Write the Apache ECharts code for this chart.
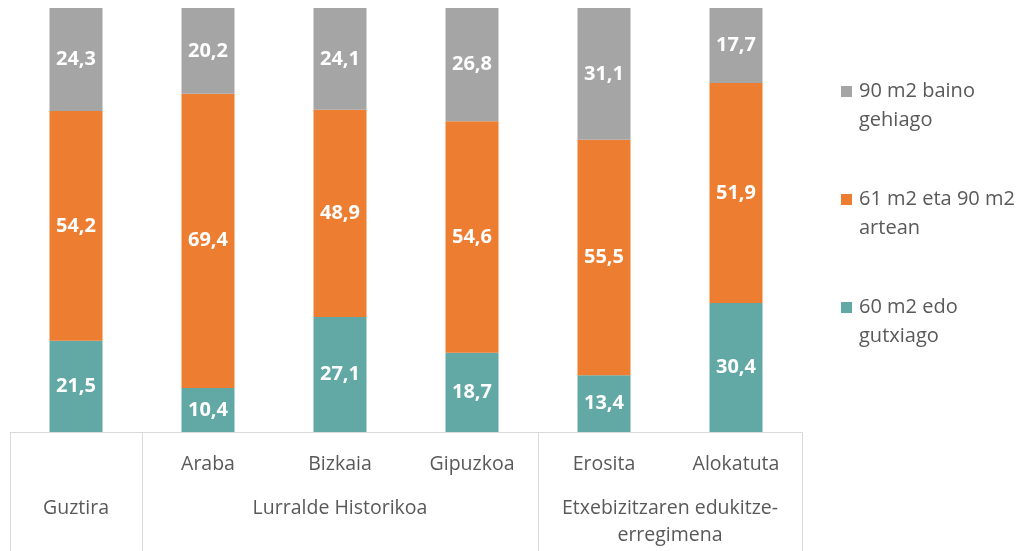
<!DOCTYPE html>
<html>
<head>
<meta charset="utf-8">
<script src="https://cdn.jsdelivr.net/npm/echarts@6/dist/echarts.min.js"></script>
<style>html,body{margin:0;padding:0;background:#fff}#c{width:1024px;height:551px}</style>
</head>
<body>
<div id="c"></div>
<script>
const categories = ['Guztira', 'Araba', 'Bizkaia', 'Gipuzkoa', 'Erosita', 'Alokatuta'];
const groupLabels = ['Guztira', 'Lurralde Historikoa', 'Etxebizitzaren edukitze-\nerregimena'];
const seriesNames = ['60 m2 edo gutxiago', '61 m2 eta 90 m2 artean', '90 m2 baino gehiago'];
const small = [21.5, 10.4, 27.1, 18.7, 13.4, 30.4];
const medium = [54.2, 69.4, 48.9, 54.6, 55.5, 51.9];
const large = [24.3, 20.2, 24.1, 26.8, 31.1, 17.7];
const legendText = {
  '90 m2 baino gehiago': '90 m2 baino\ngehiago',
  '61 m2 eta 90 m2 artean': '61 m2 eta 90 m2\nartean',
  '60 m2 edo gutxiago': '60 m2 edo\ngutxiago'
};

// group axis: 13 slots (half categories) so group labels/dividers sit between categories
const groupSlots = [];
for (let i = 0; i <= categories.length * 2; i++) groupSlots.push('');
groupSlots[1] = groupLabels[0];
groupSlots[5] = groupLabels[1];
groupSlots[10] = groupLabels[2];
const dividerSlots = [0, 2, 8, 12];
const labelSlots = [1, 5, 10];

const FONT = '"Open Sans", "Noto Sans", sans-serif';
const TXT = '#595959';
const colors = ['#62a8a4', '#ed7d31', '#a5a5a5'];

const chart = echarts.init(document.getElementById('c'), null, {renderer: 'canvas'});
const labelCfg = {
  show: true, position: 'inside', color: '#fff', fontFamily: FONT,
  fontWeight: 'bold', fontSize: 20,
  formatter: p => String(p.value).replace('.', ',')
};
const makeSeries = (name, data, color) => ({
  name, type: 'bar', stack: 'total', data, barWidth: 53,
  itemStyle: {color}, label: labelCfg, emphasis: {disabled: true}
});

chart.setOption({
  animation: false,
  textStyle: {fontFamily: FONT},
  grid: {left: 10, right: 222, top: 8, bottom: 119, containLabel: false},
  legend: {
    orient: 'vertical', left: 841, top: 77, padding: 0,
    itemWidth: 13, itemHeight: 40, itemGap: 50,
    icon: 'path://M0,0h11v11h-11zM13,40',
    data: [seriesNames[2], seriesNames[1], seriesNames[0]],
    formatter: n => legendText[n],
    textStyle: {color: TXT, fontSize: 20, lineHeight: 29, fontFamily: FONT},
    selectedMode: false
  },
  xAxis: [{
    type: 'category', data: categories, position: 'bottom',
    axisLine: {show: true, lineStyle: {color: '#d9d9d9', width: 1}},
    axisTick: {show: false},
    axisLabel: {interval: i => i !== 0, color: TXT, fontSize: 19.5, lineHeight: 26, margin: 19, fontFamily: FONT}
  }, {
    type: 'category', data: groupSlots, position: 'bottom', boundaryGap: false,
    axisLine: {show: false},
    axisTick: {show: true, length: 119, interval: i => dividerSlots.includes(i),
      lineStyle: {color: '#d9d9d9', width: 1}},
    axisLabel: {interval: i => labelSlots.includes(i), color: TXT, fontSize: 19.5,
      lineHeight: 27, margin: 63, fontFamily: FONT, align: 'center'}
  }],
  yAxis: {type: 'value', min: 0, max: 100, show: false, splitLine: {show: false}},
  series: [
    makeSeries(seriesNames[0], small, colors[0]),
    makeSeries(seriesNames[1], medium, colors[1]),
    makeSeries(seriesNames[2], large, colors[2])
  ]
});
</script>
</body>
</html>
